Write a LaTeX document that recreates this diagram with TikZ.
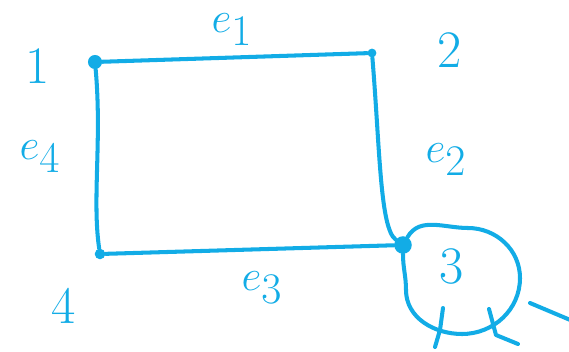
\documentclass[tikz,border=0pt]{standalone}
\usepackage{tikz}
\usetikzlibrary{positioning,calc}
\usepackage{xcolor}
\definecolor{inkblue}{HTML}{12ACE6}

\begin{document}
\begin{tikzpicture}[
    x=0.02cm, y=-0.02cm,
    vtx/.style  = {circle, fill=inkblue, inner sep=0pt, minimum size=8pt},
    edge/.style = {draw=inkblue, line width=2.3pt, line cap=round, line join=round},
    lbl/.style  = {text=inkblue, font=\fontsize{30}{34}\selectfont, inner sep=0pt},
    elbl/.style = {lbl, font=\fontsize{38}{42}\selectfont},
]
\useasboundingbox (0,0) rectangle (569,352);

%% ── Vertices ─────────────────────────────────────────────────────────────────
\node[vtx] (v1) at (95,62) {};
\node[vtx, minimum size=5pt] (v2) at (372,53) {};
\node[vtx, minimum size=10pt] (v3) at (403,245) {};
\node[vtx, minimum size=6pt] (v4) at (100,254) {};

%% ── Vertex labels ────────────────────────────────────────────────────────────
\node[lbl] (n1) at (38,66) {1};
\node[lbl] (n2) at (450,50) {2};
\node[lbl] (n3) at (452,266) {3};
\node[lbl] (n4) at (64,306) {4};

%% ── Edges ────────────────────────────────────────────────────────────────────
\draw[edge] (v1) -- (v2);
\draw[edge] (v2) .. controls (380,150) and (380,228) .. (v3);
\draw[edge] (v4) -- (v3);
\draw[edge] (v1) .. controls (102,140) and (92,200) .. (v4);
\draw[edge] (v3) to[out=60, in=180] (468,228) to[out=0, in=90] (520,278)
                 to[out=-90, in=0] (462,334) to[out=180, in=-90] (406,290)
                 to[out=90, in=-90] (v3);

%% ── Edge labels ──────────────────────────────────────────────────────────────
\node[elbl] (e1) at (232,30) {$e_1$};
\node[elbl] (e2) at (446,160) {$e_2$};
\node[elbl] (e3) at (262,288) {$e_3$};
\node[elbl] (e4) at (40,157) {$e_4$};

%% ── Strokes cut off at the bottom edge ───────────────────────────────────────
\draw[edge] (443,308) -- (440,330) -- (435,347);
\draw[edge] (489,309) -- (496,335) -- (518,344);
\draw[edge] (530,303) -- (575,322);

\end{tikzpicture}
\end{document}
